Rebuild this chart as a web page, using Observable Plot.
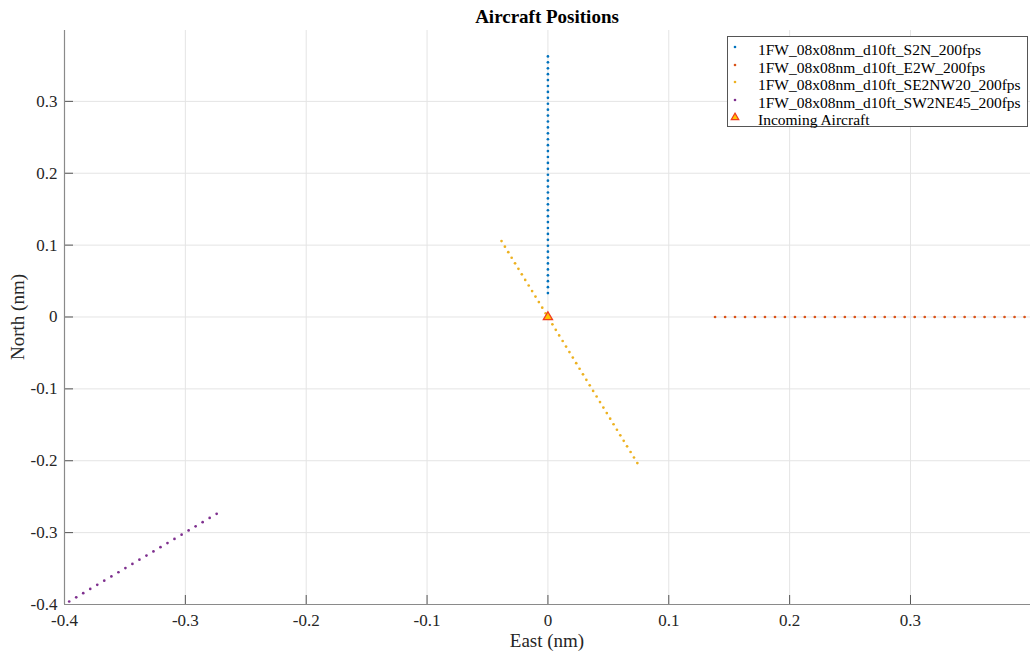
<!DOCTYPE html>
<html>
<head>
<meta charset="utf-8">
<script src="https://cdn.jsdelivr.net/npm/d3@7"></script>
<script src="https://cdn.jsdelivr.net/npm/@observablehq/plot@0.6"></script>
<style>
  html, body { margin: 0; padding: 0; background: white; }
  #wrap { position: relative; width: 1033px; height: 657px; font-family: "Liberation Serif", "Times New Roman", serif; color: #262626; }
  #wrap svg { position: absolute; left: 0; top: 0; }
  #wrap svg text { font-family: "Liberation Serif", "Times New Roman", serif !important; }
  .title { position: absolute; left: 64px; width: 966px; top: 5px; text-align: center; font-weight: bold; font-size: 19px; line-height: 24px; color: #000; }
  .xlabel { position: absolute; left: 64px; width: 966px; top: 629px; text-align: center; font-size: 19px; line-height: 24px; }
  .ylabel { position: absolute; left: 18px; top: 317px; transform: translate(-50%, -50%) rotate(-90deg); font-size: 19px; line-height: 24px; white-space: nowrap; }
  .legend { position: absolute; left: 727px; top: 36px; width: 299px; height: 89px; background: white; border: 1px solid #555; box-sizing: content-box; padding: 0; }
  .legend .row { position: absolute; left: 0; height: 18px; line-height: 18px; font-size: 15.5px; white-space: nowrap; color: #000; }
  .legend .row svg { position: absolute; left: 8px; top: 3px; }
  .legend .row span { position: absolute; left: 30px; top: 0; }
</style>
</head>
<body>
<div id="wrap"></div>
<script>
// ---- data (nm) ----
const seriesNames = [
  "1FW_08x08nm_d10ft_S2N_200fps",
  "1FW_08x08nm_d10ft_E2W_200fps",
  "1FW_08x08nm_d10ft_SE2NW20_200fps",
  "1FW_08x08nm_d10ft_SW2NE45_200fps"
];
const seriesColors = ["#0072BD", "#D95319", "#EDB120", "#7E2F8E"];
const incomingLabel = "Incoming Aircraft";

// S2N: East = 0, North values
const s2nEast = 0;
const s2nNorth = [0.0333,0.0415,0.0498,0.0580,0.0662,0.0745,0.0827,0.0909,0.0991,0.1074,
  0.1156,0.1238,0.1321,0.1403,0.1485,0.1568,0.1650,0.1732,0.1814,0.1897,
  0.1979,0.2061,0.2144,0.2226,0.2308,0.2391,0.2473,0.2555,0.2637,0.2720,
  0.2802,0.2884,0.2967,0.3049,0.3131,0.3214,0.3296,0.3378,0.3460,0.3543,0.3625];

// E2W: North = 0, East values
const e2wNorth = 0;
const e2wEast = [0.1383,0.1466,0.1548,0.1631,0.1713,0.1796,0.1879,0.1961,0.2044,0.2126,
  0.2209,0.2292,0.2374,0.2457,0.2539,0.2622,0.2705,0.2787,0.2870,0.2952,
  0.3035,0.3118,0.3200,0.3283,0.3365,0.3448,0.3531,0.3613,0.3696,0.3778,0.3861,0.3944];

// SE2NW20
const se2nwEast = [-0.0384,-0.0356,-0.0328,-0.0300,-0.0272,-0.0244,-0.0216,-0.0188,-0.0159,-0.0131,
  -0.0103,-0.0075,-0.0047,-0.0019,0.0009,0.0037,0.0065,0.0093,0.0122,0.0150,
  0.0178,0.0206,0.0234,0.0262,0.0290,0.0318,0.0346,0.0374,0.0403,0.0431,
  0.0459,0.0487,0.0515,0.0543,0.0571,0.0599,0.0627,0.0655,0.0684,0.0712,0.0740];
const se2nwNorth = [0.1056,0.0979,0.0902,0.0824,0.0747,0.0670,0.0593,0.0516,0.0438,0.0361,
  0.0284,0.0207,0.0130,0.0052,-0.0025,-0.0102,-0.0179,-0.0256,-0.0334,-0.0411,
  -0.0488,-0.0565,-0.0642,-0.0720,-0.0797,-0.0874,-0.0951,-0.1028,-0.1106,-0.1183,
  -0.1260,-0.1337,-0.1414,-0.1492,-0.1569,-0.1646,-0.1723,-0.1800,-0.1878,-0.1955,-0.2032];

// SW2NE45
const sw2neEast = [-0.3961,-0.3903,-0.3845,-0.3787,-0.3729,-0.3671,-0.3612,-0.3554,-0.3496,-0.3438,
  -0.3380,-0.3322,-0.3264,-0.3206,-0.3148,-0.3090,-0.3031,-0.2973,-0.2915,-0.2857,-0.2799,-0.2741];
const sw2neNorth = [-0.3958,-0.3900,-0.3842,-0.3784,-0.3726,-0.3668,-0.3609,-0.3551,-0.3493,-0.3435,
  -0.3377,-0.3319,-0.3261,-0.3203,-0.3145,-0.3087,-0.3028,-0.2970,-0.2912,-0.2854,-0.2796,-0.2738];

// Incoming aircraft
const incomingEast = [0];
const incomingNorth = [0];

const xTicks = [-0.4, -0.3, -0.2, -0.1, 0, 0.1, 0.2, 0.3];
const yTicks = [-0.4, -0.3, -0.2, -0.1, 0, 0.1, 0.2, 0.3];
const xDomain = [-0.4, 0.3993];
const yDomain = [-0.4, 0.3986];

// ---- build tables ----
const tS2N = s2nNorth.map(n => ({x: s2nEast, y: n}));
const tE2W = e2wEast.map(e => ({x: e, y: e2wNorth}));
const tSE = se2nwEast.map((e, i) => ({x: e, y: se2nwNorth[i]}));
const tSW = sw2neEast.map((e, i) => ({x: e, y: sw2neNorth[i]}));
const tInc = incomingEast.map((e, i) => ({x: e, y: incomingNorth[i]}));

const W = 1033, H = 657;
const mL = 64, mR = 3, mT = 30, mB = 53;
const plotW = W - mL - mR, plotH = H - mT - mB;
const tickLen = 9;
const serif = "'Liberation Serif', 'Times New Roman', serif";

const dotOpts = (c) => ({x: "x", y: "y", r: 1.35, fill: c, stroke: "none", clip: true});

const chart = Plot.plot({
  width: W, height: H,
  marginLeft: mL, marginRight: mR, marginTop: mT, marginBottom: mB,
  x: {domain: xDomain},
  y: {domain: yDomain},
  style: {fontFamily: serif, fontSize: "17px", color: "#262626", background: "transparent"},
  marks: [
    Plot.gridX(xTicks, {stroke: "#e4e4e4", strokeOpacity: 1}),
    Plot.gridY(yTicks, {stroke: "#e4e4e4", strokeOpacity: 1}),
    Plot.axisX(xTicks, {tickSize: 0, tickPadding: 9, tickFormat: d => String(d), label: null, fontSize: 17, fontFamily: serif, fill: "#262626"}),
    Plot.axisY(yTicks, {tickSize: 0, tickPadding: 7, tickFormat: d => String(d), label: null, fontSize: 17, fontFamily: serif, fill: "#262626"}),
    Plot.tickX(xTicks, {x: d => d, insetTop: plotH - tickLen, stroke: "#555"}),
    Plot.tickY(yTicks, {y: d => d, insetRight: plotW - tickLen, stroke: "#555"}),
    Plot.ruleY([yDomain[0]], {stroke: "#8a8a8a", strokeWidth: 1.2}),
    Plot.ruleX([xDomain[0]], {stroke: "#8a8a8a", strokeWidth: 1.2}),
    Plot.dot(tS2N, dotOpts(seriesColors[0])),
    Plot.dot(tE2W, dotOpts(seriesColors[1])),
    Plot.dot(tSE, dotOpts(seriesColors[2])),
    Plot.dot(tSW, dotOpts(seriesColors[3])),
    Plot.dot(tInc, {x: "x", y: "y", symbol: "triangle", r: 3.4, fill: "#FFC400", stroke: "#F03C1E", strokeWidth: 1.3})
  ]
});

const wrap = document.getElementById("wrap");
wrap.appendChild(chart);

const title = document.createElement("div");
title.className = "title"; title.textContent = "Aircraft Positions";
wrap.appendChild(title);
const xl = document.createElement("div");
xl.className = "xlabel"; xl.textContent = "East (nm)";
wrap.appendChild(xl);
const yl = document.createElement("div");
yl.className = "ylabel"; yl.textContent = "North (nm)";
wrap.appendChild(yl);

// legend
const legend = document.createElement("div");
legend.className = "legend";
const entries = seriesNames.map((n, i) => ({name: n, color: seriesColors[i], type: "dot"}));
entries.push({name: incomingLabel, type: "tri"});
entries.forEach((e, i) => {
  const row = document.createElement("div");
  row.className = "row";
  row.style.top = (4 + i * 17.6) + "px";
  const svgNS = "http://www.w3.org/2000/svg";
  const s = document.createElementNS(svgNS, "svg");
  s.setAttribute("width", "14"); s.setAttribute("height", "12");
  if (e.type === "dot") {
    const c = document.createElementNS(svgNS, "circle");
    c.setAttribute("cx", "7"); c.setAttribute("cy", "6"); c.setAttribute("r", "1.3");
    c.setAttribute("fill", e.color);
    s.appendChild(c);
  } else {
    const p = document.createElementNS(svgNS, "path");
    p.setAttribute("d", d3.symbol(d3.symbolTriangle, Math.PI * 2.8 * 2.8)());
    p.setAttribute("transform", "translate(7,6.5)");
    p.setAttribute("fill", "#FFC400"); p.setAttribute("stroke", "#F03C1E"); p.setAttribute("stroke-width", "1.2");
    s.appendChild(p);
  }
  row.appendChild(s);
  const sp = document.createElement("span");
  sp.textContent = e.name;
  row.appendChild(sp);
  legend.appendChild(row);
});
wrap.appendChild(legend);
</script>
</body>
</html>
